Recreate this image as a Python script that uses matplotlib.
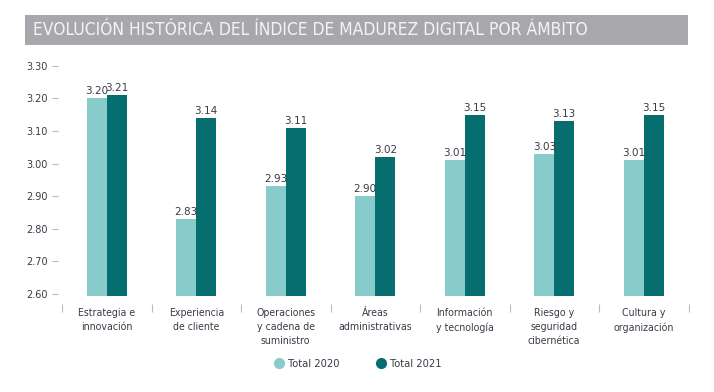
import matplotlib
matplotlib.use("Agg")
import matplotlib.pyplot as plt
import matplotlib.patches as mpatches
from matplotlib.lines import Line2D
import numpy as np

# ── Data ──────────────────────────────────────────────────────────────────
categories = [
    "Estrategia e\ninnovación",
    "Experiencia\nde cliente",
    "Operaciones\ny cadena de\nsuministro",
    "Áreas\nadministrativas",
    "Información\ny tecnología",
    "Riesgo y\nseguridad\ncibernética",
    "Cultura y\norganización",
]
total_2020 = [3.20, 2.83, 2.93, 2.90, 3.01, 3.03, 3.01]
total_2021 = [3.21, 3.14, 3.11, 3.02, 3.15, 3.13, 3.15]
yticks = [2.60, 2.70, 2.80, 2.90, 3.00, 3.10, 3.20, 3.30]

TITLE = "EVOLUCIÓN HISTÓRICA DEL ÍNDICE DE MADUREZ DIGITAL POR ÁMBITO"
LIGHT = "#87CCCA"
DARK = "#066E6F"
TEXT = "#3A3A48"
BASE = 2.595


def main():
    fig = plt.figure(figsize=(7.14, 3.92), dpi=100)
    fig.patch.set_facecolor("white")

    # ── Title band ────────────────────────────────────────────────────────
    band = mpatches.Rectangle((25 / 714, 1 - 45 / 392), 663 / 714, 30 / 392,
                              transform=fig.transFigure, facecolor="#A8A7AB",
                              edgecolor="none")
    fig.patches.append(band)
    fig.text(33 / 714, 1 - 30 / 392, TITLE, color="#F4F4F4", fontsize=12.5,
             family="DejaVu Sans", fontstretch="condensed",
             va="center", ha="left")

    # ── Bars ──────────────────────────────────────────────────────────────
    ax = fig.add_axes([62 / 714, 1 - 295.6 / 392, 626.5 / 714, 229.9 / 392])
    x = np.arange(len(categories))
    w = 0.224
    h20 = [v - BASE for v in total_2020]
    h21 = [v - BASE for v in total_2021]
    ax.bar(x - w / 2, h20, w, bottom=BASE, color=LIGHT, zorder=2)
    ax.bar(x + w / 2, h21, w, bottom=BASE, color=DARK, zorder=2)

    for xi, v in zip(x - w / 2, total_2020):
        ax.text(xi, v + 0.006, f"{v:.2f}", ha="center", va="bottom",
                fontsize=7.5, color=TEXT)
    for xi, v in zip(x + w / 2, total_2021):
        ax.text(xi, v + 0.006, f"{v:.2f}", ha="center", va="bottom",
                fontsize=7.5, color=TEXT)

    ax.set_xlim(-0.5, len(categories) - 0.5)
    ax.set_ylim(BASE, 3.30)

    # y axis: detached short grey ticks
    ax.set_yticks(yticks)
    ax.set_yticklabels([f"{t:.2f}" for t in yticks])
    ax.spines["left"].set_position(("outward", 3))
    ax.tick_params(axis="y", length=4.3, width=0.8, color="#BBBBBB",
                   pad=2.8, labelsize=7, labelcolor=TEXT)

    # x axis: category names + separator ticks
    ax.spines["bottom"].set_position(("outward", 6))
    ax.set_xticks(x)
    ax.set_xticklabels(categories, family="DejaVu Sans",
                       fontstretch="condensed", fontsize=7.6, color=TEXT,
                       linespacing=1.5, va="top")
    ax.set_xticks(np.arange(-0.5, len(categories)), minor=True)
    ax.tick_params(axis="x", which="major", length=0, pad=3)
    ax.tick_params(axis="x", which="minor", length=6, width=0.8,
                   color="#BBBBBB")

    for s in ax.spines.values():
        s.set_visible(False)

    # ── Legend ────────────────────────────────────────────────────────────
    handles = [
        Line2D([], [], marker="o", linestyle="none", markersize=7,
               markerfacecolor=LIGHT, markeredgecolor=LIGHT, label="Total 2020"),
        Line2D([], [], marker="o", linestyle="none", markersize=7,
               markerfacecolor=DARK, markeredgecolor=DARK, label="Total 2021"),
    ]
    leg = fig.legend(handles=handles, loc="center", ncol=2,
                     bbox_to_anchor=(357 / 714, 1 - 364 / 392), frameon=False,
                     prop={"family": "DejaVu Sans", "stretch": "condensed",
                           "size": 8},
                     handletextpad=0.2, columnspacing=3.2, handlelength=1.2)
    for t in leg.get_texts():
        t.set_color(TEXT)

    fig.savefig("out.png", dpi=100)


if __name__ == "__main__":
    main()
